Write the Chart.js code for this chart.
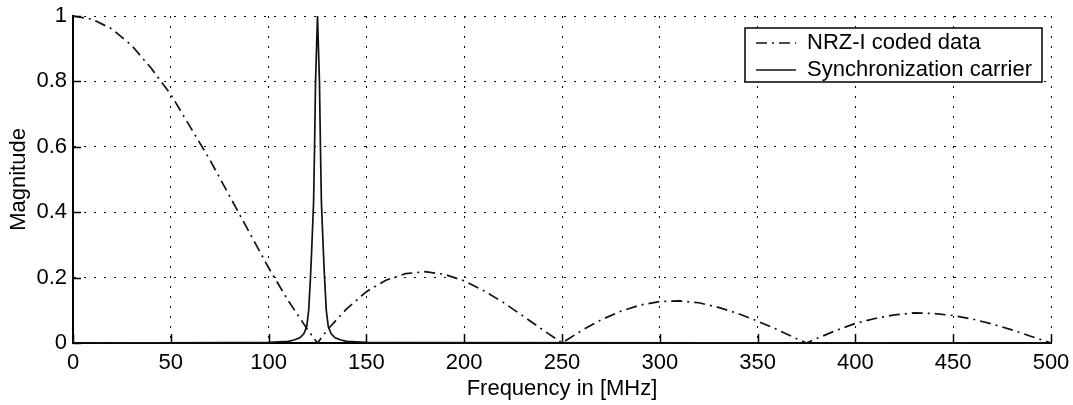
<!DOCTYPE html>
<html>
<head>
<meta charset="utf-8">
<script src="https://cdn.jsdelivr.net/npm/chart.js@4.4.1/dist/chart.umd.min.js"></script>
<style>
  html, body { margin: 0; padding: 0; background: #ffffff; }
  #wrap { width: 1073px; height: 405px; position: relative; }
</style>
</head>
<body>
<div id="wrap"><canvas id="c" width="1073" height="405"></canvas></div>
<script>
// ---- data ----
const xTickValues = [0, 50, 100, 150, 200, 250, 300, 350, 400, 450, 500];
const xTickLabels = ['0', '50', '100', '150', '200', '250', '300', '350', '400', '450', '500'];
const yTickValues = [0, 0.2, 0.4, 0.6, 0.8, 1];
const yTickLabels = ['0', '0.2', '0.4', '0.6', '0.8', '1'];

const seriesNames = ['NRZ-I coded data', 'Synchronization carrier'];

// NRZ-I coded data spectrum magnitude
const nrzFreq = [0, 10, 20, 30, 40, 50, 60, 70, 80, 90, 100, 110, 120, 125,
                 130, 140, 150, 160, 170, 180, 190, 200, 210, 220, 230, 240, 250,
                 260, 270, 280, 290, 300, 310, 320, 330, 340, 350, 360, 370, 375,
                 380, 390, 400, 410, 420, 430, 440, 450, 460, 470, 480, 490, 500];
const nrzMag  = [1.00, 0.99, 0.96, 0.91, 0.84, 0.76, 0.66, 0.56, 0.45, 0.34, 0.23, 0.13, 0.04, 0.00,
                 0.04, 0.105, 0.157, 0.192, 0.212, 0.218, 0.21, 0.19, 0.16, 0.124, 0.083, 0.041, 0.00,
                 0.038, 0.071, 0.097, 0.116, 0.127, 0.129, 0.123, 0.109, 0.09, 0.067, 0.041, 0.013, 0.00,
                 0.013, 0.038, 0.06, 0.075, 0.086, 0.092, 0.09, 0.084, 0.073, 0.058, 0.04, 0.02, 0.00];

// Synchronization carrier spectrum magnitude
const carFreq = [0, 80, 100, 110, 113, 116, 118, 119.5, 120.5, 121.4, 122, 123, 123.5, 124, 124.5, 125,
                 125.5, 126, 126.5, 127, 128, 128.6, 129.5, 130.5, 132, 134, 137, 140, 150, 170, 500];
const carMag  = [0, 0.001, 0.002, 0.005, 0.009, 0.016, 0.028, 0.05, 0.1, 0.2, 0.28, 0.43, 0.6, 0.8, 0.9, 1.0,
                 0.9, 0.8, 0.6, 0.43, 0.28, 0.2, 0.1, 0.05, 0.028, 0.016, 0.009, 0.005, 0.002, 0.001, 0];

// ---- chart ----
const FONT = "'Liberation Sans', Arial, Helvetica, sans-serif";
const toPts = (xs, ys) => xs.map((x, i) => ({ x: x, y: ys[i] }));

const inwardTicks = {
  id: 'inwardTicks',
  afterDatasetsDraw(chart) {
    const ctx = chart.ctx;
    const xs = chart.scales.x, ys = chart.scales.y;
    const a = chart.chartArea;
    ctx.save();
    ctx.strokeStyle = '#000';
    ctx.lineWidth = 1.5;
    ctx.beginPath();
    xTickValues.forEach(v => {
      const px = Math.round(xs.getPixelForValue(v)) + 0.5;
      ctx.moveTo(px, a.bottom);
      ctx.lineTo(px, a.bottom - 9);
    });
    yTickValues.forEach(v => {
      const py = Math.round(ys.getPixelForValue(v)) + 0.5;
      ctx.moveTo(a.left, py);
      ctx.lineTo(a.left + 8, py);
    });
    ctx.stroke();
    ctx.restore();
  }
};

const boxLegend = {
  id: 'boxLegend',
  afterDraw(chart) {
    const ctx = chart.ctx;
    const a = chart.chartArea;
    const w = 297, h = 54;
    const left = a.right - 9 - w, top = a.top + 12;
    ctx.save();
    ctx.fillStyle = '#fff';
    ctx.fillRect(left, top, w, h);
    ctx.strokeStyle = '#000';
    ctx.lineWidth = 1.5;
    ctx.strokeRect(left, top, w, h);
    const rows = [top + 15, top + 42];
    chart.data.datasets.forEach((ds, i) => {
      const y = rows[i];
      ctx.save();
      ctx.strokeStyle = ds.borderColor;
      ctx.lineWidth = ds.borderWidth;
      ctx.setLineDash(ds.borderDash || []);
      ctx.beginPath();
      ctx.moveTo(left + 11, y);
      ctx.lineTo(left + 51, y);
      ctx.stroke();
      ctx.restore();
      ctx.fillStyle = '#000';
      ctx.font = '22px ' + FONT;
      ctx.textBaseline = 'middle';
      ctx.textAlign = 'left';
      ctx.fillText(ds.label, left + 62, y);
    });
    ctx.restore();
  }
};

new Chart(document.getElementById('c'), {
  type: 'line',
  data: {
    datasets: [
      {
        label: seriesNames[0],
        data: toPts(nrzFreq, nrzMag),
        borderColor: '#111',
        borderWidth: 1.7,
        borderDash: [11, 5, 2, 5],
        pointRadius: 0,
        tension: 0,
        fill: false
      },
      {
        label: seriesNames[1],
        data: toPts(carFreq, carMag),
        borderColor: '#111',
        borderWidth: 1.7,
        pointRadius: 0,
        tension: 0,
        fill: false
      }
    ]
  },
  options: {
    responsive: false,
    animation: false,
    clip: false,
    layout: { padding: { left: 0, right: 22, top: 16, bottom: 0 } },
    plugins: { legend: { display: false }, tooltip: { enabled: false } },
    scales: {
      x: {
        type: 'linear',
        min: 0, max: 500,
        afterBuildTicks: s => { s.ticks = xTickValues.map(v => ({ value: v })); },
        afterFit: s => { s.height = 62; s.paddingLeft = 0; s.paddingRight = 0; },
        ticks: {
          color: '#000',
          padding: 7,
          maxRotation: 0,
          font: { family: FONT, size: 22 },
          callback: (v, i) => xTickLabels[i]
        },
        grid: { color: '#000', lineWidth: 1, drawTicks: false },
        border: { display: true, color: '#000', width: 2, dash: [2, 8] },
        title: {
          display: true, text: 'Frequency in [MHz]', color: '#000',
          font: { family: FONT, size: 22 }, padding: { top: 0, bottom: 3 }
        }
      },
      y: {
        type: 'linear',
        min: 0, max: 1,
        afterBuildTicks: s => { s.ticks = yTickValues.map(v => ({ value: v })); },
        afterFit: s => { s.width = 73; s.paddingTop = 0; s.paddingBottom = 0; },
        ticks: {
          color: '#000',
          padding: 6,
          font: { family: FONT, size: 22 },
          callback: (v, i) => yTickLabels[i]
        },
        grid: { color: '#000', lineWidth: 1, drawTicks: false },
        border: { display: true, color: '#000', width: 2, dash: [2, 8] },
        title: {
          display: true, text: 'Magnitude', color: '#000',
          font: { family: FONT, size: 22 }, padding: { top: 6, bottom: 0 }
        }
      }
    }
  },
  plugins: [inwardTicks, boxLegend]
});
</script>
</body>
</html>
